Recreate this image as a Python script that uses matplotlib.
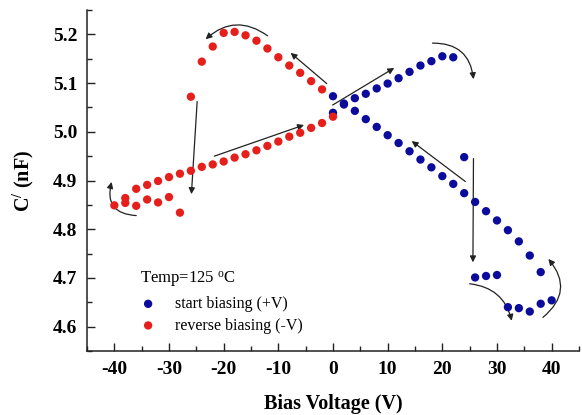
import matplotlib
matplotlib.use("Agg")
import matplotlib.pyplot as plt
from matplotlib.ticker import MultipleLocator

# ---- data ----
blue_x = [0, 2, 4, 6, 8, 10, 12, 14, 16, 18, 20, 22,
          24, 26, 28, 30, 32, 34, 36, 38, 40,
          38, 36, 34, 32, 30, 28, 26, 24, 22, 20, 18, 16, 14, 12, 10, 8, 6, 4, 2, 0]
blue_y = [5.039, 5.056, 5.069, 5.078, 5.089, 5.099, 5.110, 5.123, 5.136, 5.145, 5.155, 5.153,
          4.948, 4.701, 4.704, 4.706, 4.640, 4.638, 4.631, 4.647, 4.654,
          4.712, 4.746, 4.775, 4.798, 4.818, 4.837, 4.856, 4.874, 4.893, 4.909, 4.927, 4.943,
          4.960, 4.977, 4.993, 5.010, 5.026, 5.043, 5.058, 5.073]

red_x = [0, -2, -4, -6, -8, -10, -12, -14, -16, -18, -20, -22, -24, -26,
         -28, -30, -32, -34, -36, -38, -40,
         -38, -36, -34, -32, -30, -28, -26, -24, -22, -20, -18, -16, -14, -12,
         -10, -8, -6, -4, -2]
red_y = [5.031, 5.087, 5.104, 5.121, 5.136, 5.153, 5.171, 5.187, 5.198, 5.205, 5.203, 5.175, 5.144, 5.072,
         4.834, 4.866, 4.855, 4.861, 4.848, 4.854, 4.849,
         4.864, 4.883, 4.891, 4.899, 4.907, 4.914, 4.920, 4.928, 4.933, 4.939, 4.947, 4.954, 4.962, 4.971,
         4.980, 4.990, 4.998, 5.008, 5.018]

x_ticks = [-40, -30, -20, -10, 0, 10, 20, 30, 40]
y_ticks = [4.6, 4.7, 4.8, 4.9, 5.0, 5.1, 5.2]

blue_label = "start biasing (+V)"
red_label = "reverse biasing (-V)"
legend_title = "Temp=125 $^{\\rm o}$C"

BLUE = "#0c0c9c"
RED = "#e5201c"

plt.rcParams['font.family'] = ['Liberation Serif', 'DejaVu Serif']
plt.rcParams['mathtext.fontset'] = 'custom'
plt.rcParams['mathtext.rm'] = 'Liberation Serif'
plt.rcParams['mathtext.it'] = 'Liberation Serif:italic'
plt.rcParams['mathtext.bf'] = 'Liberation Serif:bold'

fig = plt.figure(figsize=(5.82, 4.15), dpi=100)
ax = fig.add_axes([0.1495, 0.1542, 0.8453, 0.8217])

ax.scatter(blue_x, blue_y, s=36, color=BLUE, edgecolors='none', label=blue_label, zorder=3)
ax.scatter(red_x, red_y, s=36, color=RED, edgecolors='none', label=red_label, zorder=3)

ax.set_xlim(-45, 45)
ax.set_ylim(4.55, 5.25)
ax.set_xticks(x_ticks)
ax.set_yticks(y_ticks)
ax.set_xticklabels([str(v) for v in x_ticks])
ax.set_yticklabels(["%.1f" % v for v in y_ticks])
ax.xaxis.set_minor_locator(MultipleLocator(5))
ax.yaxis.set_minor_locator(MultipleLocator(0.05))

for s in ['top', 'right']:
    ax.spines[s].set_visible(False)
for s in ['left', 'bottom']:
    ax.spines[s].set_linewidth(1.1)
    ax.spines[s].set_color('#222222')

ax.tick_params(which='major', direction='in', length=6, width=1.0, color='#222222', pad=7)
ax.tick_params(which='minor', direction='in', length=3.5, width=1.0, color='#222222')
for lab in ax.get_xticklabels() + ax.get_yticklabels():
    lab.set_fontsize(14)
    lab.set_fontweight('bold')

ax.set_xlabel("Bias Voltage (V)", fontsize=14.5, fontweight='bold', labelpad=12)
ax.set_ylabel("C$^{\\mathbf{/}}$ (nF)", fontsize=14.5, fontweight='bold', labelpad=12)

# ---- arrows ----
def arr(p0, p1, rad=0.0):
    ax.annotate("", xy=p1, xytext=p0,
                arrowprops=dict(arrowstyle='-|>', color='#222222', lw=0.9,
                                mutation_scale=9, shrinkA=0, shrinkB=0,
                                connectionstyle="arc3,rad=%g" % rad), zorder=2)

arr((-11.96, 5.197), (-23.3, 5.190), rad=0.4)   # red top curve
arr((-1.15, 5.099), (-7.75, 5.162))
arr((-24.85, 5.062), (-25.9, 4.872))
arr((-21.7, 4.950), (-5.3, 5.014))
arr((-36.0, 4.828), (-40.5, 4.897), rad=-0.6)
arr((-0.05, 5.055), (11.2, 5.131))
arr((18.2, 5.182), (25.7, 5.108), rad=-0.45)
arr((24.2, 4.898), (14.4, 4.981))
arr((25.7, 4.945), (25.6, 4.732))
arr((25.0, 4.688), (32.7, 4.612), rad=-0.35)
arr((38.4, 4.619), (39.4, 4.739), rad=0.5)

leg = ax.legend(title=legend_title, loc='upper left', bbox_to_anchor=(0.095, 0.255),
                frameon=False, fontsize=11.5, title_fontsize=12, handletextpad=1.2,
                handlelength=1.0, labelspacing=0.35, borderaxespad=0, alignment='left')

fig.savefig("out.png", dpi=100)
